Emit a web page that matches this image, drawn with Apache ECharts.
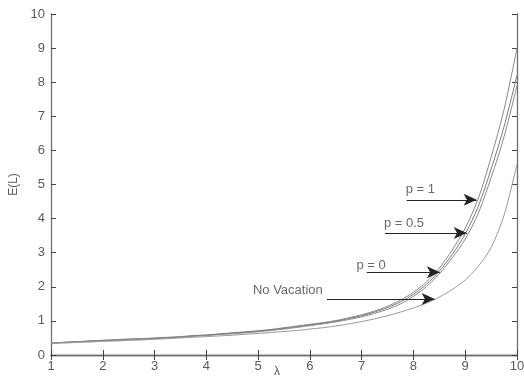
<!DOCTYPE html>
<html>
<head>
<meta charset="utf-8">
<script src="https://cdn.jsdelivr.net/npm/echarts@6/dist/echarts.min.js"></script>
<style>
  html, body { margin: 0; padding: 0; background: #fff; }
  #chart { width: 524px; height: 377px; }
</style>
</head>
<body>
<div id="chart"></div>
<script>
// Arrival rate λ (step 0.25) and mean number in system E(L) for each vacation policy
const lambda = [1, 1.25, 1.5, 1.75, 2, 2.25, 2.5, 2.75, 3, 3.25, 3.5, 3.75, 4, 4.25, 4.5, 4.75, 5,
                5.25, 5.5, 5.75, 6, 6.25, 6.5, 6.75, 7, 7.25, 7.5, 7.75, 8, 8.25, 8.5, 8.75, 9,
                9.25, 9.5, 9.75, 10];
const p1 = [0.35, 0.37, 0.39, 0.41, 0.43, 0.45, 0.47, 0.48, 0.50, 0.52, 0.54, 0.57, 0.59, 0.62, 0.65, 0.68, 0.71,
            0.75, 0.80, 0.85, 0.90, 0.95, 1.01, 1.09, 1.18, 1.29, 1.43, 1.61, 1.84, 2.14, 2.55, 3.08, 3.72,
            4.58, 5.80, 7.20, 9.00];
const p05 = [0.35, 0.37, 0.39, 0.41, 0.43, 0.44, 0.46, 0.47, 0.49, 0.51, 0.53, 0.56, 0.58, 0.61, 0.64, 0.67, 0.70,
             0.74, 0.78, 0.83, 0.88, 0.93, 0.99, 1.07, 1.15, 1.26, 1.39, 1.56, 1.78, 2.07, 2.46, 2.95, 3.55,
             4.35, 5.45, 6.70, 8.20];
const p0 = [0.35, 0.37, 0.38, 0.40, 0.42, 0.43, 0.45, 0.46, 0.48, 0.50, 0.52, 0.55, 0.57, 0.60, 0.62, 0.65, 0.68,
            0.72, 0.76, 0.81, 0.86, 0.91, 0.97, 1.04, 1.12, 1.22, 1.34, 1.50, 1.72, 2.00, 2.38, 2.85, 3.40,
            4.15, 5.20, 6.40, 7.90];
const noVac = [0.34, 0.35, 0.37, 0.38, 0.40, 0.41, 0.43, 0.44, 0.46, 0.48, 0.50, 0.52, 0.54, 0.56, 0.58, 0.61, 0.63,
               0.66, 0.69, 0.72, 0.76, 0.80, 0.85, 0.91, 0.98, 1.06, 1.15, 1.26, 1.38, 1.52, 1.70, 1.92, 2.20,
               2.60, 3.15, 4.10, 5.60];

const xTicks = [1, 2, 3, 4, 5, 6, 7, 8, 9, 10];
const yTicks = [0, 1, 2, 3, 4, 5, 6, 7, 8, 9, 10];

// Annotation arrows: label text, label anchor [λ, E], arrow start λ, arrow tip [λ, E]
const annText    = ['p = 1', 'p = 0.5', 'p = 0', 'No Vacation'];
const annLabelAt = [[7.85, 4.87], [7.43, 3.87], [6.90, 2.64], [4.90, 1.90]];
const annFrom    = [7.87, 7.45, 7.10, 6.33];
const annTip     = [[9.22, 4.55], [9.03, 3.58], [8.51, 2.43], [8.41, 1.64]];

const pairs = ys => lambda.map((x, i) => [x, ys[i]]);

const font = 'Liberation Sans, Arial, sans-serif';
const axisGray = '#707070';
const textGray = '#5a5a5a';

const baseAxis = {
  axisLine: { show: true, lineStyle: { color: axisGray, width: 1.3 } },
  axisTick: { show: true, inside: true, length: 5, lineStyle: { color: '#444', width: 1 } },
  splitLine: { show: false }
};

const curve = (name, ys, color) => ({
  name, type: 'line', data: pairs(ys), smooth: 0.3,
  showSymbol: false, symbol: 'none',
  lineStyle: { color, width: 1 }, z: 2
});

const chart = echarts.init(document.getElementById('chart'), null, { renderer: 'canvas' });
chart.setOption({
  animation: false,
  backgroundColor: '#fff',
  grid: { left: 51, right: 7, top: 14, bottom: 22, containLabel: false, outerBoundsMode: 'none' },
  // x-axis title sits just under the tick labels, partly clipped by the canvas edge
  graphic: [{
    type: 'text', left: 274, top: 366, silent: true,
    style: { text: 'λ', fill: textGray, font: '12px ' + font }
  }],
  xAxis: [
    Object.assign({}, baseAxis, {
      type: 'value', min: 1, max: 10, interval: 1, position: 'bottom',
      axisLabel: { color: textGray, fontFamily: font, fontSize: 13, margin: 5,
                   formatter: v => xTicks.includes(v) ? String(v) : '' }
    }),
    Object.assign({}, baseAxis, {
      type: 'value', min: 1, max: 10, interval: 1, position: 'top',
      axisLabel: { show: false }
    })
  ],
  yAxis: [
    Object.assign({}, baseAxis, {
      type: 'value', min: 0, max: 10, interval: 1, position: 'left',
      name: 'E(L)', nameLocation: 'middle', nameGap: 24, nameRotate: 90,
      nameTextStyle: { color: textGray, fontFamily: font, fontSize: 12 },
      axisLabel: { color: textGray, fontFamily: font, fontSize: 13, margin: 6,
                   formatter: v => yTicks.includes(v) ? String(v) : '' }
    }),
    Object.assign({}, baseAxis, {
      type: 'value', min: 0, max: 10, interval: 1, position: 'right',
      axisLabel: { show: false }
    })
  ],
  series: [
    curve('p = 1', p1, '#8a8a8a'),
    curve('p = 0.5', p05, '#7a7a7a'),
    curve('p = 0', p0, '#8a8a8a'),
    curve('No Vacation', noVac, '#9a9a9a'),
    {
      name: 'arrows', type: 'line', data: [], z: 5,
      markLine: {
        silent: true, symbol: ['none', 'arrow'], symbolSize: [9, 13],
        label: { show: false },
        lineStyle: { color: '#222', width: 1.2, type: 'solid' },
        data: annTip.map((tip, i) => [{ coord: [annFrom[i], tip[1]] }, { coord: tip }])
      }
    },
    {
      name: 'labels', type: 'scatter', symbolSize: 0, z: 6,
      data: annLabelAt.map((p, i) => ({ value: p, name: annText[i] })),
      label: {
        show: true, position: 'right', distance: 0, formatter: d => d.name,
        color: '#444', fontFamily: font, fontSize: 13
      }
    }
  ]
});
</script>
</body>
</html>
